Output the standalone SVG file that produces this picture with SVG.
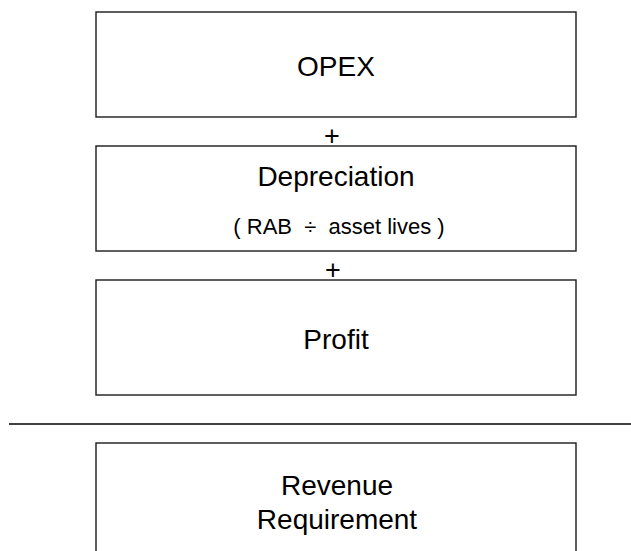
<svg xmlns="http://www.w3.org/2000/svg" width="631" height="551" viewBox="0 0 631 551">
<style>
.box{fill:#fff;stroke:#1a1a1a;stroke-width:1.4}
.t{font-family:"Liberation Sans",Arial,Helvetica,sans-serif;fill:#000;text-anchor:middle}
.big{font-size:28px}
.sub{font-size:22px;white-space:pre}
.op{font-size:27px}
</style>
<rect width="631" height="551" fill="#fff"/>
<g id="opex">
<rect class="box" x="96" y="12" width="480" height="105"/>
<text class="t big" x="336" y="76">OPEX</text>
</g>
<g id="depreciation">
<rect class="box" x="96" y="146" width="480" height="105"/>
<text class="t big" x="336" y="186">Depreciation</text>
<text class="t sub" x="339" y="234" xml:space="preserve">( RAB  ÷  asset lives )</text>
</g>
<g id="profit">
<rect class="box" x="96" y="280" width="480" height="115"/>
<text class="t big" x="336" y="349">Profit</text>
</g>
<g id="plus1"><text class="t op" x="332" y="145">+</text></g>
<g id="plus2"><text class="t op" x="333" y="279">+</text></g>
<g id="connectors">
<line x1="9" y1="424" x2="631" y2="424" stroke="#000" stroke-width="1.5"/>
</g>
<g id="revenue">
<rect class="box" x="96" y="443" width="480" height="130"/>
<text class="t big" x="337" y="495">Revenue</text>
<text class="t big" x="337" y="529">Requirement</text>
</g>
</svg>
